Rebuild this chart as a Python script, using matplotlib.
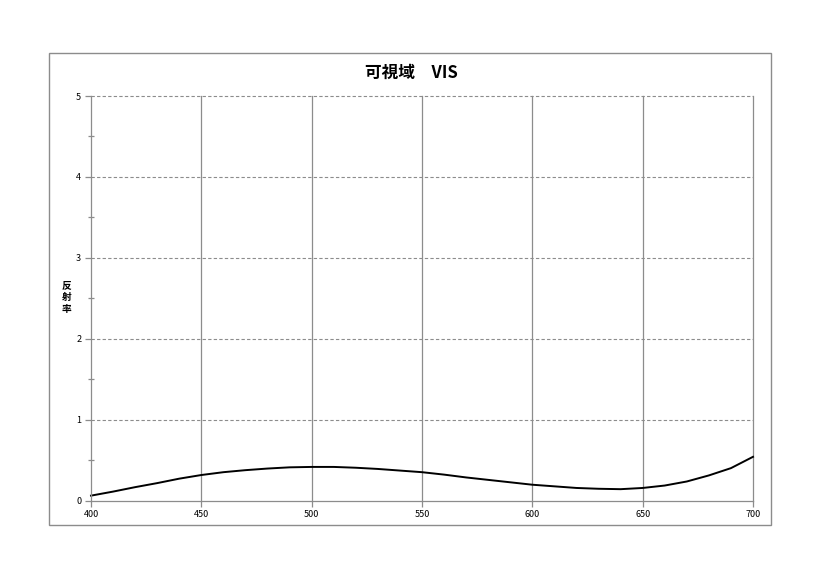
import numpy as np
import matplotlib
matplotlib.use("Agg")
import matplotlib.pyplot as plt
from matplotlib.patches import Rectangle
from matplotlib.ticker import MultipleLocator

plt.rcParams['font.family'] = ['Noto Sans CJK JP', 'DejaVu Sans']

# wavelength (nm) and reflectance
wavelength = [400, 410, 420, 430, 440, 450, 460, 470, 480, 490, 500,
              510, 520, 530, 540, 550, 560, 570, 580, 590, 600,
              610, 620, 630, 640, 650, 660, 670, 680, 690, 700]
reflectance = [0.06, 0.11, 0.165, 0.215, 0.27, 0.315, 0.35, 0.375, 0.395, 0.41, 0.415,
               0.415, 0.405, 0.39, 0.37, 0.35, 0.32, 0.285, 0.255, 0.225, 0.195,
               0.175, 0.155, 0.145, 0.14, 0.155, 0.185, 0.235, 0.31, 0.40, 0.54]

x_ticks = [400, 450, 500, 550, 600, 650, 700]
y_ticks = [0, 1, 2, 3, 4, 5]

fig = plt.figure(figsize=(8.3, 5.87), dpi=100)

# outer chart frame
fig.patches.append(Rectangle((49 / 830, 1 - 525 / 587), 722 / 830, 472 / 587,
                             transform=fig.transFigure, fill=False,
                             edgecolor='#8c8c8c', linewidth=1.0))

ax = fig.add_axes([91 / 830, 1 - 500.5 / 587, 662 / 830, 404.5 / 587])
ax.plot(wavelength, reflectance, color='black', linewidth=1.4,
        solid_joinstyle='round', clip_on=False)

ax.set_xlim(400, 700)
ax.set_ylim(0, 5)
ax.set_xticks(x_ticks)
ax.set_yticks(y_ticks)
ax.yaxis.set_minor_locator(MultipleLocator(0.5))

for v in x_ticks[1:]:
    ax.axvline(v, color='#8c8c8c', linewidth=0.9, zorder=0, clip_on=False)
for v in y_ticks[1:]:
    ax.axhline(v, color='#8c8c8c', linewidth=0.8, linestyle=(0, (3, 2)), zorder=0,
               clip_on=False)

for s in ['top', 'right']:
    ax.spines[s].set_visible(False)
for s in ['left', 'bottom']:
    ax.spines[s].set_color('#8c8c8c')
    ax.spines[s].set_linewidth(0.9)

ax.tick_params(axis='both', which='major', labelsize=6.5, color='#8c8c8c',
               length=4, width=0.9, direction='out', pad=3)
ax.tick_params(axis='y', which='minor', color='#8c8c8c', length=5, width=0.9,
               direction='inout')

fig.text(411 / 830, 1 - 73 / 587, '可視域　VIS', ha='center', va='center',
         fontsize=12, fontweight='bold')
fig.text(67 / 830, 1 - 297 / 587, '反\n射\n率', ha='center', va='center',
         fontsize=7, fontweight='bold', linespacing=1.3)

fig.savefig('out.png', dpi=100)
